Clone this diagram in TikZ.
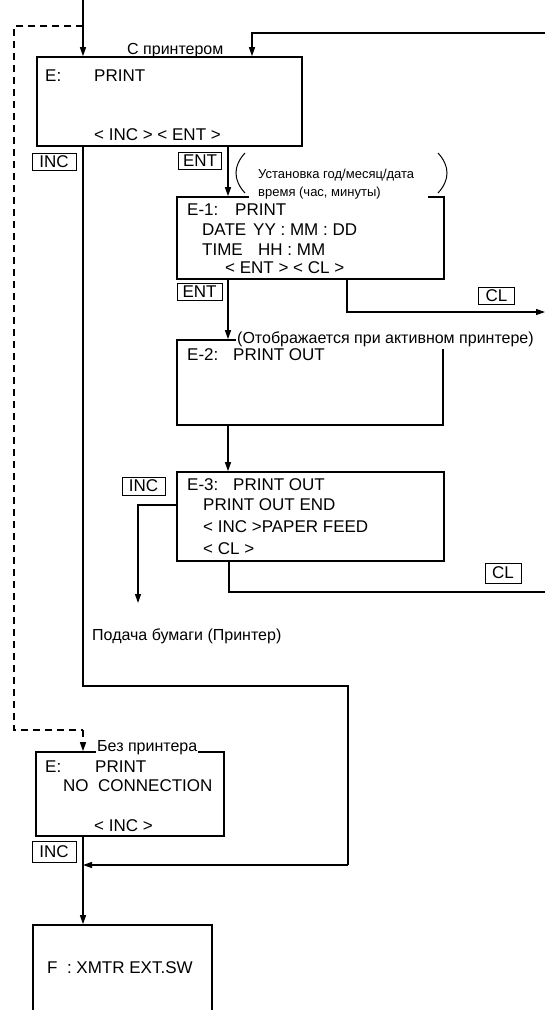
\documentclass[tikz,border=0pt]{standalone}
\usepackage{fontspec}
\setmainfont{Liberation Sans}
\usetikzlibrary{arrows.meta,fit}
\begin{document}
\begin{tikzpicture}[x=1pt,y=-1pt,
  box/.style={draw,line width=1.6pt,inner sep=0pt},
  lbl/.style={draw,line width=0.9pt,inner sep=0pt,font=\fontsize{17}{19}\selectfont},
  conn/.style={line width=1.2pt},
  arr/.style={conn,-{Triangle[length=9pt,width=6pt]}},
  dsh/.style={conn,dash pattern=on 7pt off 5pt},
  txt/.style={anchor=base west,inner sep=0pt,font=\fontsize{17}{19}\selectfont},
  note/.style={anchor=base west,inner sep=0pt,font=\fontsize{16}{18}\selectfont},
  small/.style={anchor=base west,inner sep=0pt,font=\fontsize{13}{15}\selectfont},
  paren/.style={line width=1pt}
]
\useasboundingbox (0,0) rectangle (545,1010);

% free ends
\coordinate (top) at (83,0);
\coordinate (right1) at (545,33);
\coordinate (out1) at (545,312);
\coordinate (out2) at (545,592);
\coordinate (feed) at (138,603);

% E box
\node[box,fit={(37,57) (302,146)}] (E0) {};
\node[txt] (E0a) at (45,81) {E:};
\node[txt] (E0b) at (94,81) {PRINT};
\node[txt] (E0c) at (94,140) {< INC > < ENT >};
\node[note] (withp) at (127,54) {С принтером};

% E-1
\node[box,fit={(177,197) (444,279)}] (E1) {};
\fill[white] (249,192) rectangle (428,200);
\draw[paren] (245,153) .. controls (233,166) and (233,180) .. (245,193);
\draw[paren] (438,153) .. controls (450,166) and (450,180) .. (438,193);
\node[small] (set1) at (258,178) {Установка год/месяц/дата};
\node[small] (set2) at (258,196.5) {время (час, минуты)};
\node[txt] (E1a) at (187,215) {E-1:};
\node[txt] (E1b) at (235,215) {PRINT};
\node[txt] (E1c) at (202,235) {DATE};
\node[txt] (E1d) at (253,235) {YY : MM : DD};
\node[txt] (E1e) at (202,255) {TIME};
\node[txt] (E1f) at (258,255) {HH : MM};
\node[txt] (E1g) at (225,273) {< ENT > < CL >};

% E-2
\node[box,fit={(177,340) (443,425)}] (E2) {};
\node[note,fill=white,inner xsep=1pt,inner ysep=3pt] (act) at (236,343) {(Отображается при активном принтере)};
\node[txt] (E2a) at (187,360) {E-2:};
\node[txt] (E2b) at (233,360) {PRINT OUT};

% E-3
\node[box,fit={(177,472) (444,561)}] (E3) {};
\node[txt] (E3a) at (187,490) {E-3:};
\node[txt] (E3b) at (233,490) {PRINT OUT};
\node[txt] (E3c) at (203,510) {PRINT OUT END};
\node[txt] (E3d) at (203,532) {< INC >PAPER FEED};
\node[txt] (E3e) at (203,554) {< CL >};
\node[note] (paper) at (92,640) {Подача бумаги (Принтер)};

% E no printer
\node[box,fit={(36,752) (224,836)}] (EN) {};
\node[note,fill=white,inner xsep=1pt,inner ysep=3pt] (nop) at (96,751) {Без принтера};
\node[txt] (ENa) at (45,772) {E:};
\node[txt] (ENb) at (95,772) {PRINT};
\node[txt] (ENc) at (63,791) {NO\ \ CONNECTION};
\node[txt] (ENd) at (94,831) {< INC >};

% F
\node[box,fit={(33,925) (212,1025)}] (F) {};
\node[txt] (Fa) at (47,973) {F\ \ : XMTR EXT.SW};

% key labels
\node[lbl,minimum width=44pt,minimum height=17pt] (kINC1) at (54,162) {INC};
\node[lbl,minimum width=43pt,minimum height=17pt] (kENT1) at (200,161) {ENT};
\node[lbl,minimum width=45pt,minimum height=17pt] (kENT2) at (199.5,292) {ENT};
\node[lbl,minimum width=36pt,minimum height=17pt] (kCL1) at (496.5,295.5) {CL};
\node[lbl,minimum width=43pt,minimum height=18pt] (kINC3) at (143.5,486) {INC};
\node[lbl,minimum width=36pt,minimum height=20pt] (kCL2) at (503,573) {CL};
\node[lbl,minimum width=44pt,minimum height=21pt] (kINC4) at (54,852) {INC};

% connectors
\draw[arr] (top) -- (top |- E0.north);
\draw[arr] (right1) -- (252,33) -- (252,33 |- E0.north);
\draw[dsh] (83,26) -- (14,26) -- (14,730) -- (83,730);
\draw[conn,dash pattern=on 7pt off 5pt,-{Triangle[length=9pt,width=6pt]}] (83,730) -- (83,730 |- EN.north);
\draw[arr] (228,0 |- E0.south) -- (228,0 |- E1.north);
\draw[arr] (228,0 |- E1.south) -- (228,0 |- E2.north);
\draw[arr] (228,0 |- E2.south) -- (228,0 |- E3.north);
\draw[arr] (347,0 |- E1.south) -- (347,312) -- (out1);
\draw[conn] (229,0 |- E3.south) -- (229,592) -- (out2);
\draw[arr] (E3.west |- 0,505) -- (138,505) -- (feed);
\draw[conn] (83,0 |- E0.south) -- (83,686) -- (348,686) -- (348,865);
\draw[arr] (348,865) -- (83,865);
\draw[arr] (83,0 |- EN.south) -- (83,0 |- F.north);
\end{tikzpicture}
\end{document}
